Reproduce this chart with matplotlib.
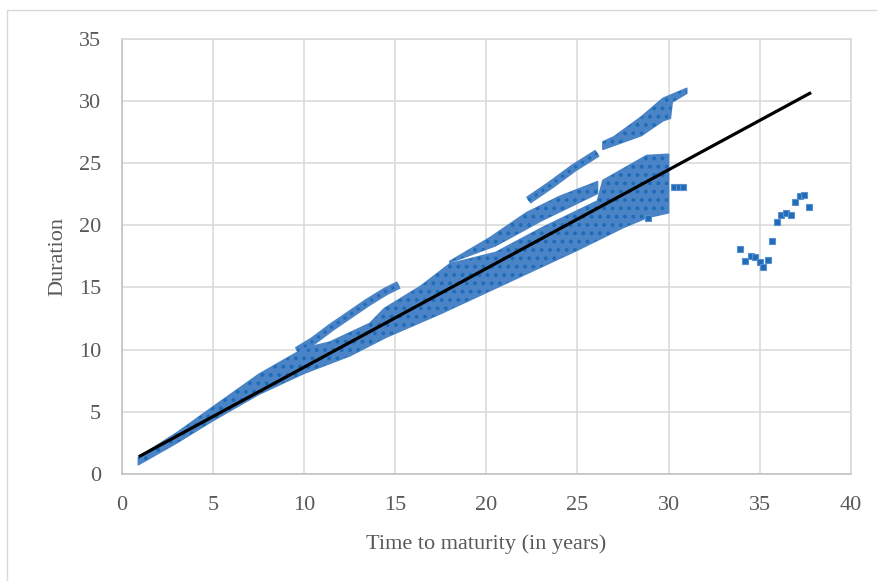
import matplotlib.pyplot as plt
import numpy as np
from matplotlib.patches import Rectangle

# dense cloud of bonds (edges)
core_lo_x = [0.9, 3.0, 5.0, 7.5, 10.0, 12.5, 14.5, 17.5, 20.0, 22.5, 25.0, 27.5, 28.8, 30.0]
core_lo_y = [0.75, 2.5, 4.3, 6.4, 8.1, 9.5, 11.0, 12.9, 14.6, 16.3, 18.0, 19.8, 20.6, 21.0]
core_hi_x = [0.9, 3.0, 5.0, 7.5, 10.0, 11.4, 13.6, 14.4, 16.4, 18.0, 20.5, 23.0, 26.1, 26.4, 28.8, 30.0]
core_hi_y = [1.35, 3.3, 5.4, 8.0, 10.1, 10.6, 12.1, 13.3, 15.1, 16.9, 17.8, 19.75, 21.95, 23.6, 25.6, 25.7]

# part of the cloud above the thin gap (x 18-26)
upper_lo_x = [18.0, 20.5, 23.0, 26.1]
upper_lo_y = [17.0, 18.35, 20.35, 22.55]
upper_hi_x = [18.0, 20.2, 22.2, 24.0, 26.1]
upper_hi_y = [17.1, 19.0, 21.0, 22.3, 23.5]

# long bonds on the top strand
top_lo_x = [26.4, 28.5, 29.7, 30.1, 30.2, 31.0]
top_lo_y = [26.1, 27.2, 28.4, 28.6, 29.9, 30.6]
top_hi_x = [26.4, 27.0, 28.5, 29.7, 31.0]
top_hi_y = [26.7, 27.1, 28.7, 30.2, 31.0]

# thin strands
strand1_x = [9.6, 10.5, 11.5, 12.5, 13.5, 14.5, 15.2]
strand1_y = [9.9, 10.7, 11.8, 12.8, 13.8, 14.7, 15.2]
strand2_x = [22.3, 23.5, 24.8, 26.1]
strand2_y = [22.0, 23.2, 24.6, 25.8]

# single points
extra_x = [30.3, 30.55, 30.8, 28.9]
extra_y = [23.1, 23.1, 23.05, 20.6]
outlier_x = [33.95, 34.2, 34.5, 34.75, 35.0, 35.2, 35.45, 35.7, 35.95, 36.2,
             36.45, 36.7, 36.95, 37.2, 37.45, 37.7]
outlier_y = [18.1, 17.15, 17.5, 17.45, 17.05, 16.6, 17.2, 18.75, 20.25, 20.8,
             20.95, 20.8, 21.9, 22.35, 22.4, 21.5]

# linear trend line
trend_x = [1.0, 37.75]
trend_y = [1.45, 30.6]

blue = "#4a84c6"
face = "#1f6cb8"
edge = "#5a8fce"
grey = "#595959"

plt.rcParams["font.family"] = ["Liberation Serif", "DejaVu Serif"]
plt.rcParams["hatch.linewidth"] = 1.6

fig = plt.figure(figsize=(8.78, 5.81), dpi=100)
ax = fig.add_axes([122 / 878, 107 / 581, 728.7 / 878, 435.4 / 581])

def band(lo_x, lo_y, hi_x, hi_y):
    xs = list(lo_x) + list(hi_x)[::-1]
    ys = list(lo_y) + list(hi_y)[::-1]
    ax.fill(xs, ys, fc=blue, ec=blue, lw=1.2, joinstyle="round", zorder=2)
    ax.fill(xs, ys, fc="none", ec=face, lw=0, hatch="..", zorder=2)

band(core_lo_x, core_lo_y, core_hi_x, core_hi_y)
band(upper_lo_x, upper_lo_y, upper_hi_x, upper_hi_y)
band(top_lo_x, top_lo_y, top_hi_x, top_hi_y)

for sx, sy in [(strand1_x, strand1_y), (strand2_x, strand2_y)]:
    ax.plot(sx, sy, "-", color=blue, lw=5.8, solid_capstyle="butt", zorder=2)
    ax.plot(sx, sy, ":", color=face, lw=2.2, zorder=2)

ax.plot(extra_x, extra_y, "s", ms=4.3, mfc=face, mec=edge, mew=0.8, zorder=2)
ax.plot(outlier_x, outlier_y, "s", ms=4.3, mfc=face, mec=edge, mew=0.8, zorder=2)

ax.plot(trend_x, trend_y, color="black", lw=2.3, zorder=3)

ax.set_xlim(0, 40)
ax.set_ylim(0, 35)
ax.set_xticks(range(0, 41, 5))
ax.set_yticks(range(0, 36, 5))
ax.tick_params(length=0, labelsize=16, colors=grey)
ax.tick_params(axis="x", pad=16)
ax.tick_params(axis="y", pad=15)
ax.grid(color="#d9d9d9", lw=1.1)
ax.set_axisbelow(True)
for s in ["top", "right"]:
    ax.spines[s].set_color("#d9d9d9")
    ax.spines[s].set_linewidth(1.1)
for s in ["left", "bottom"]:
    ax.spines[s].set_color("#bfbfbf")
    ax.spines[s].set_linewidth(1.1)

ax.set_xlabel("Time to maturity (in years)", fontsize=16, color=grey, labelpad=14)
ax.set_ylabel("Duration", fontsize=16, color=grey, labelpad=8)

fig.add_artist(Rectangle((7 / 878, -0.01), 1.0, 1 - 10 / 581 + 0.01,
                         transform=fig.transFigure, fill=False, ec="#d9d9d9", lw=1))

plt.savefig("out.png", dpi=100)
